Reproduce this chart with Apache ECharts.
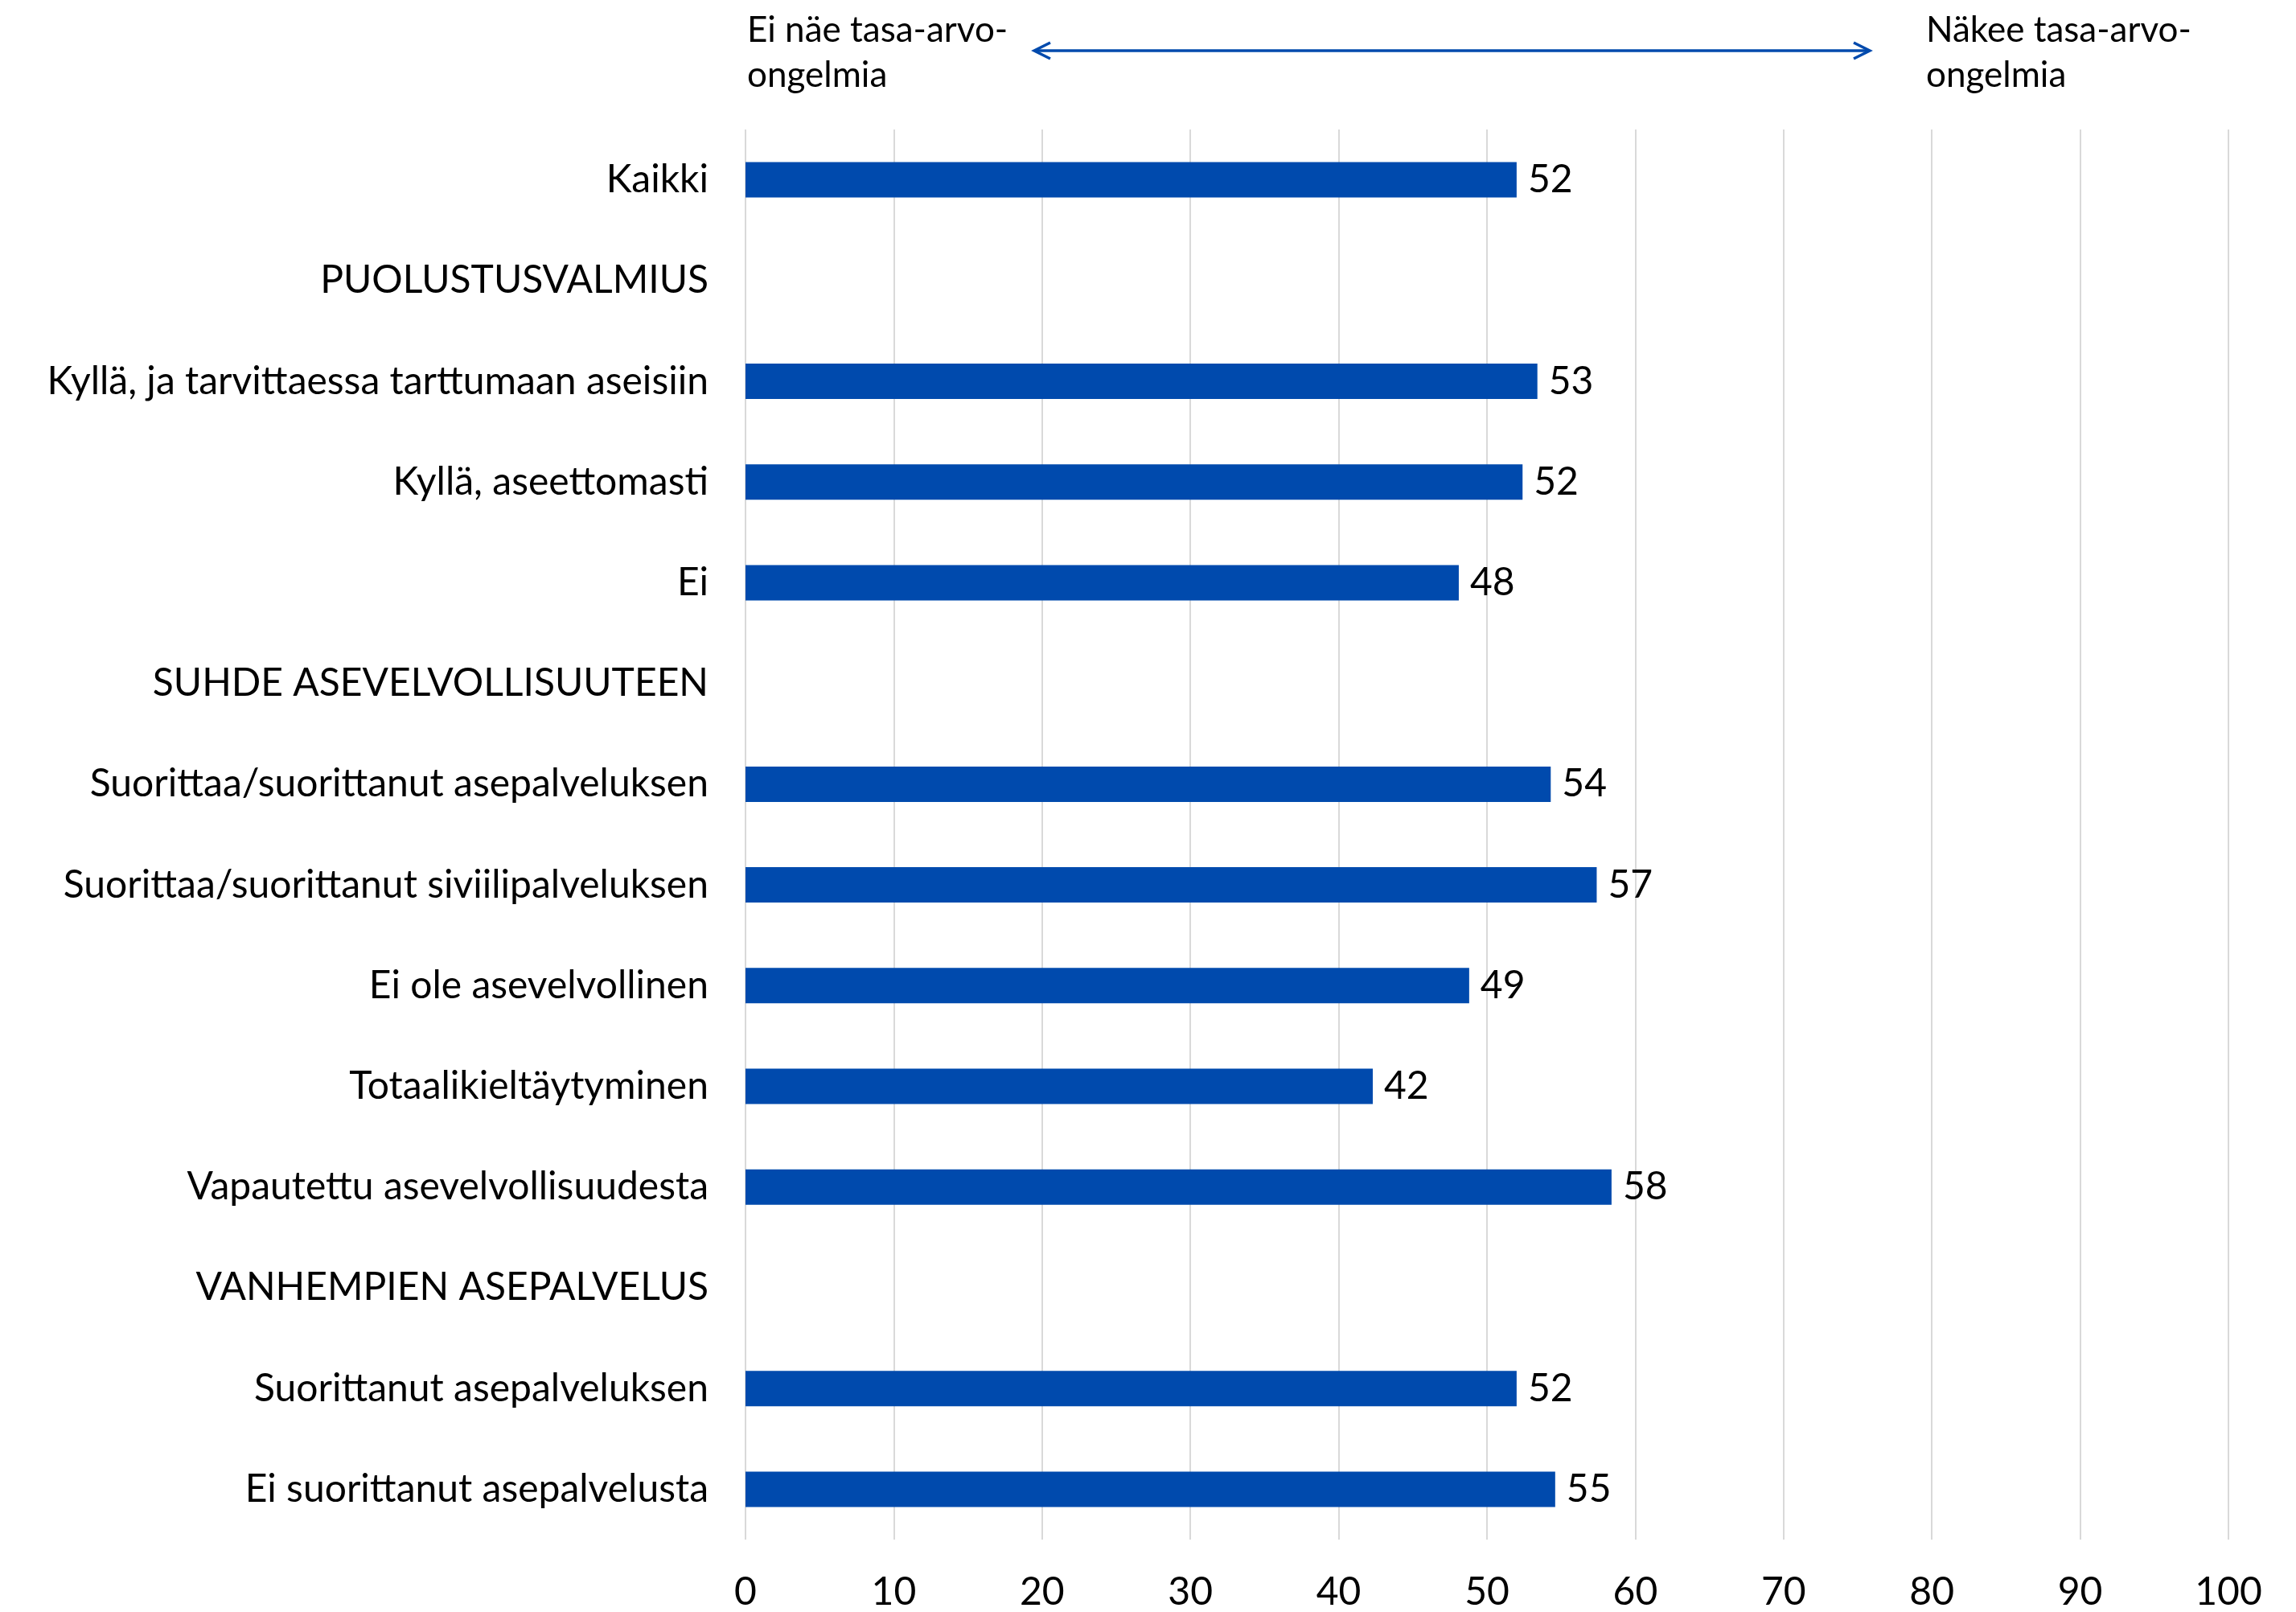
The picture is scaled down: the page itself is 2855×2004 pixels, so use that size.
<!DOCTYPE html>
<html>
<head>
<meta charset="utf-8">
<script src="https://cdn.jsdelivr.net/npm/echarts@6/dist/echarts.min.js"></script>
<style>
html,body{margin:0;padding:0;background:#fff;}
#chart{width:2855px;height:2004px;}
</style>
</head>
<body>
<div id="chart"></div>
<script>
var categories = [
  'Kaikki',
  'PUOLUSTUSVALMIUS',
  'Kyllä, ja tarvittaessa tarttumaan aseisiin',
  'Kyllä, aseettomasti',
  'Ei',
  'SUHDE ASEVELVOLLISUUTEEN',
  'Suorittaa/suorittanut asepalveluksen',
  'Suorittaa/suorittanut siviilipalveluksen',
  'Ei ole asevelvollinen',
  'Totaalikieltäytyminen',
  'Vapautettu asevelvollisuudesta',
  'VANHEMPIEN ASEPALVELUS',
  'Suorittanut asepalveluksen',
  'Ei suorittanut asepalvelusta'
];
var values = [52.0, null, 53.4, 52.4, 48.1, null, 54.3, 57.4, 48.8, 42.3, 58.4, null, 52.0, 54.6];
var xTicks = [0, 10, 20, 30, 40, 50, 60, 70, 80, 90, 100];
var leftNote = 'Ei näe tasa-arvo-\nongelmia';
var rightNote = 'Näkee tasa-arvo-\nongelmia';

var FONT = 'Lato';
var chart = echarts.init(document.getElementById('chart'));
chart.setOption({
  animation: false,
  backgroundColor: '#ffffff',
  grid: {left: 927, right: 84, top: 161, bottom: 86, containLabel: false},
  xAxis: {
    type: 'value',
    min: xTicks[0],
    max: xTicks[xTicks.length - 1],
    interval: xTicks[1] - xTicks[0],
    axisLine: {show: false},
    axisTick: {show: false},
    splitLine: {show: true, lineStyle: {color: '#d9d9d9', width: 2}},
    axisLabel: {fontFamily: FONT, fontSize: 48, color: '#000', margin: 42}
  },
  yAxis: {
    type: 'category',
    inverse: true,
    data: categories,
    axisLine: {show: false},
    axisTick: {show: false},
    axisLabel: {fontFamily: FONT, fontSize: 48, color: '#000', margin: 46}
  },
  series: [{
    type: 'bar',
    data: values,
    barWidth: 44,
    itemStyle: {color: '#004AAD'},
    label: {
      show: true,
      position: 'right',
      distance: 14,
      fontFamily: FONT,
      fontSize: 48,
      color: '#000',
      formatter: function (p) { return p.value == null ? '' : Math.round(p.value); }
    }
  }],
  graphic: [
    {type: 'text', left: 929, top: 10, style: {text: leftNote, fontFamily: FONT, fontSize: 44, lineHeight: 56, fill: '#000'}},
    {type: 'text', left: 2395, top: 10, style: {text: rightNote, fontFamily: FONT, fontSize: 44, lineHeight: 56, fill: '#000'}},
    {type: 'line', shape: {x1: 1286, y1: 63, x2: 2325, y2: 63}, style: {stroke: '#004AAD', lineWidth: 3.5}},
    {type: 'polyline', shape: {points: [[1306, 53], [1286, 63], [1306, 73]]}, style: {stroke: '#004AAD', lineWidth: 3.5, fill: null}},
    {type: 'polyline', shape: {points: [[2305, 53], [2325, 63], [2305, 73]]}, style: {stroke: '#004AAD', lineWidth: 3.5, fill: null}}
  ]
});
</script>
</body>
</html>
